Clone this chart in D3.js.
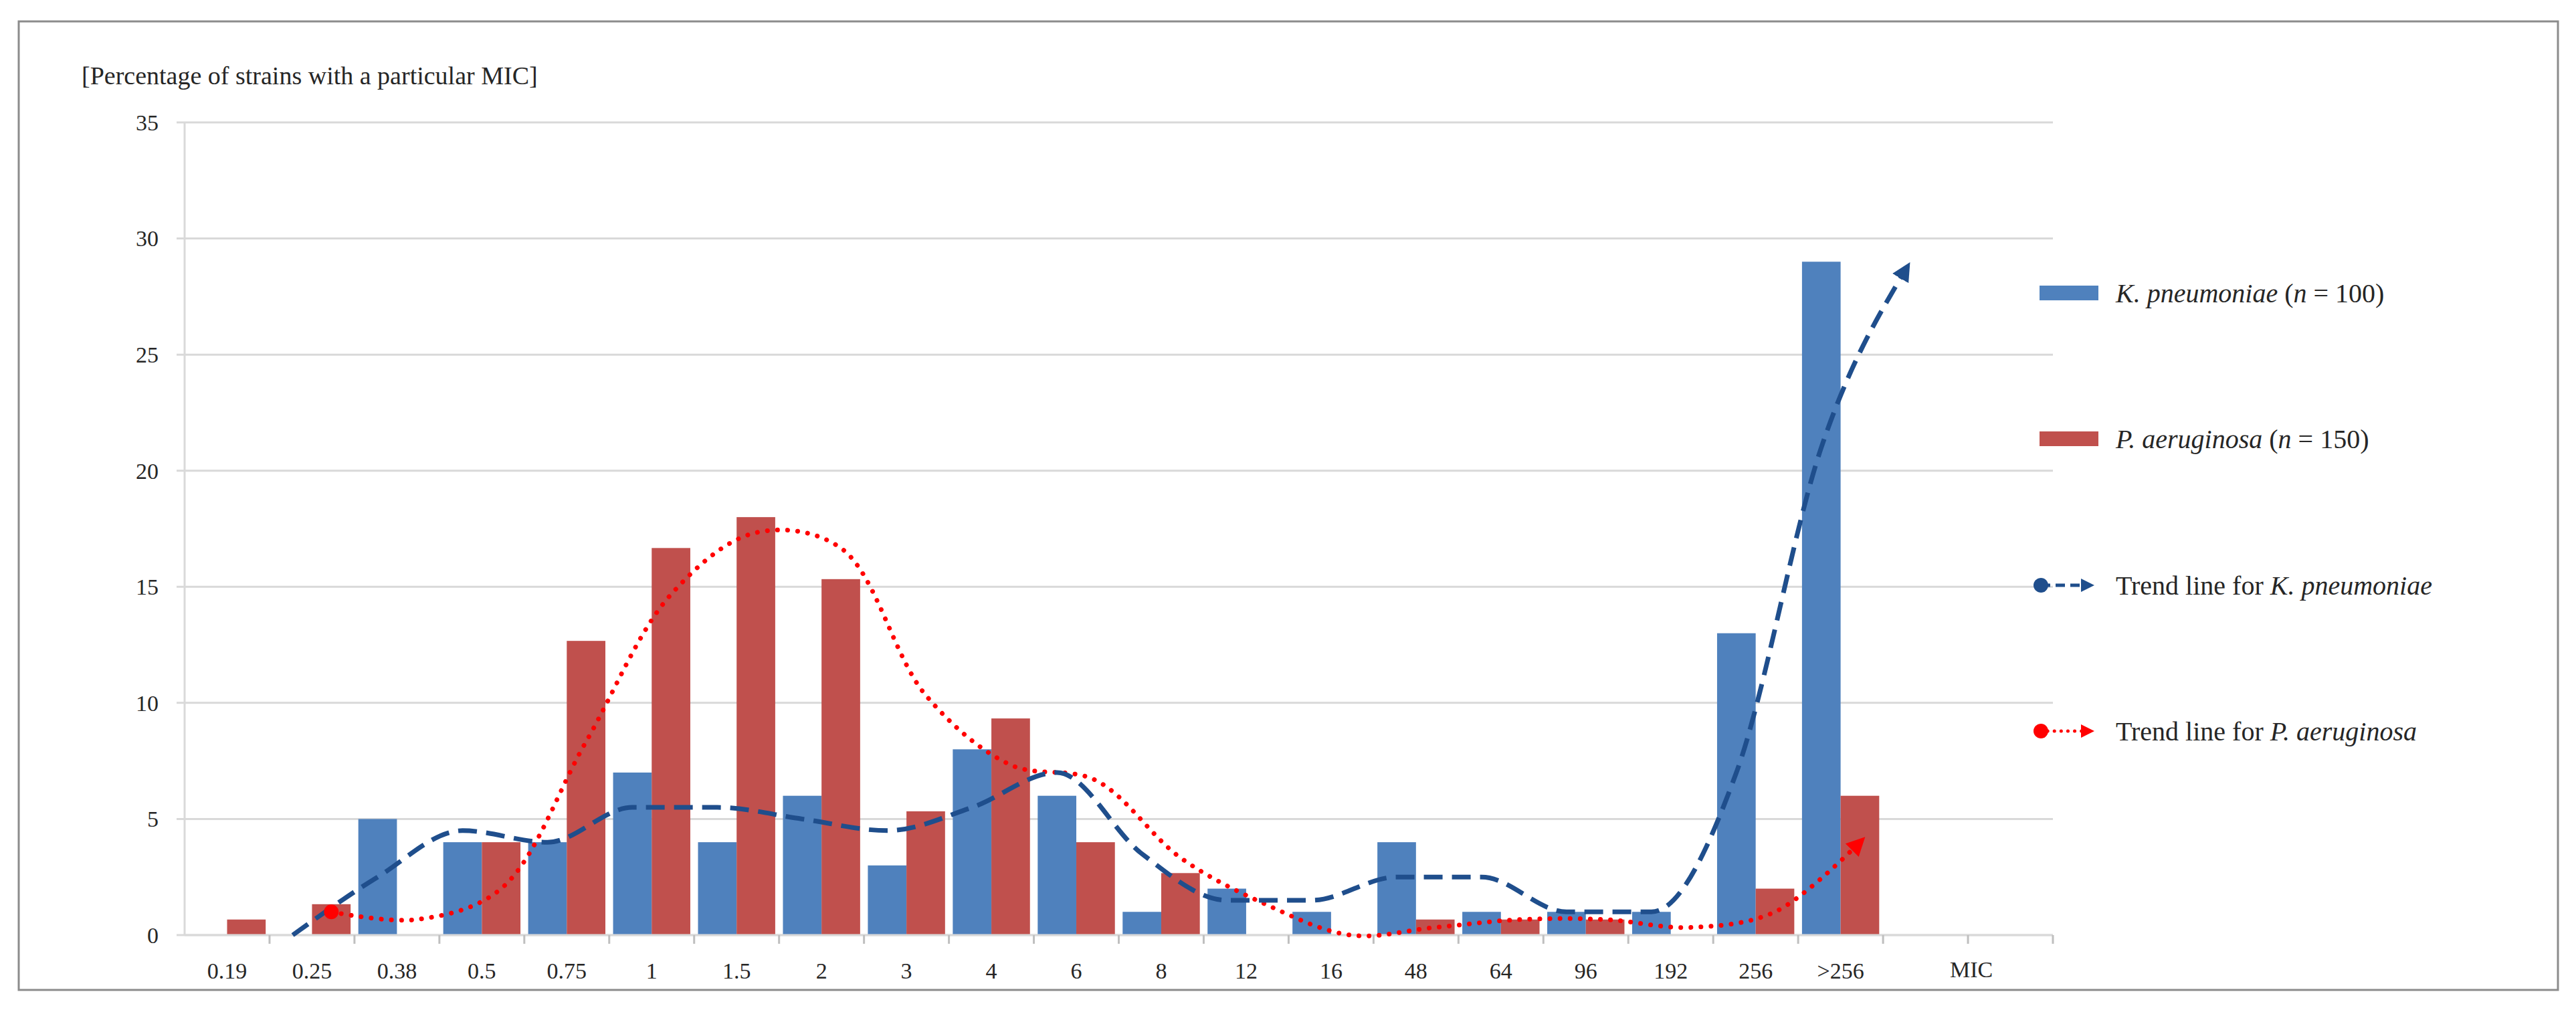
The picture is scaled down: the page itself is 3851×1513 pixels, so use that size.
<!DOCTYPE html>
<html>
<head>
<meta charset="utf-8">
<script src="https://cdn.jsdelivr.net/npm/d3@7"></script>
<style>
  body { margin: 0; background: #fff; }
  text { font-family: "Liberation Serif", "DejaVu Serif", serif; fill: #262626; }
</style>
</head>
<body>
<script>
// MIC categories (two empty slots follow >256)
const categories = ['0.19', '0.25', '0.38', '0.5', '0.75', '1', '1.5', '2', '3', '4', '6', '8',
                    '12', '16', '48', '64', '96', '192', '256', '>256', 'pad1', 'pad2'];
const kpValues = [0, 0, 5, 4, 4, 7, 4, 6, 3, 8, 6, 1, 2, 1, 4, 1, 1, 1, 13, 29];
const paValues = [0.67, 1.33, 0, 4, 12.67, 16.67, 18, 15.33, 5.33, 9.33, 4, 2.67, 0, 0, 0.67, 0.67, 0.67, 0, 2, 6];
// trend lines (2-point moving averages), starting at 0.25
const kpTrend = [null, 0, 2.5, 4.5, 4, 5.5, 5.5, 5, 4.5, 5.5, 7, 3.5, 1.5, 1.5, 2.5, 2.5, 1, 1, 7, 21, 28.7];
const paTrend = [null, 1, 0.67, 2, 8.33, 14.67, 17.33, 16.67, 10.33, 7.33, 6.67, 3.33, 1.33, 0, 0.33, 0.67, 0.67, 0.33, 1, 4];
const yTicks = [0, 5, 10, 15, 20, 25, 30, 35];

const W = 3851, H = 1513;
const plotLeft = 276, plotRight = 3069, plotTop = 183, plotBottom = 1398;
const blue = '#4f81bd', red = '#c0504d', trendBlue = '#1f4e8c', trendRed = '#ff0000';

const svg = d3.select('body').append('svg').attr('width', W).attr('height', H);

svg.append('defs').call(defs => {
  defs.append('marker').attr('id', 'arrB').attr('viewBox', '0 0 10 10').attr('refX', 6).attr('refY', 5)
    .attr('markerWidth', 4).attr('markerHeight', 4).attr('orient', 'auto').attr('markerUnits', 'strokeWidth')
    .append('path').attr('d', 'M0,0L10,5L0,10Z').attr('fill', trendBlue);
  defs.append('marker').attr('id', 'arrR').attr('viewBox', '0 0 10 10').attr('refX', 6).attr('refY', 5)
    .attr('markerWidth', 4).attr('markerHeight', 4).attr('orient', 'auto').attr('markerUnits', 'strokeWidth')
    .append('path').attr('d', 'M0,0L10,5L0,10Z').attr('fill', trendRed);
});

// outer frame
svg.append('rect').attr('x', 28).attr('y', 32).attr('width', 3796).attr('height', 1448)
  .attr('fill', 'none').attr('stroke', '#8c8c8c').attr('stroke-width', 3);

const x = d3.scaleBand().domain(categories).range([plotLeft, plotRight]).paddingInner(0).paddingOuter(0);
const xs = d3.scaleBand().domain(['kp', 'pa']).range([0, x.bandwidth()]).paddingOuter(0.1);
const y = d3.scaleLinear().domain([0, 35]).range([plotBottom, plotTop]);

// gridlines + y labels
svg.append('g').selectAll('line').data(yTicks).join('line')
  .attr('x1', plotLeft - 12).attr('x2', plotRight).attr('y1', d => y(d)).attr('y2', d => y(d))
  .attr('stroke', '#d9d9d9').attr('stroke-width', 3);
svg.append('g').selectAll('text').data(yTicks).join('text')
  .attr('x', 237).attr('y', d => y(d)).attr('dy', '0.35em').attr('text-anchor', 'end')
  .attr('font-size', 34).text(d => d);

svg.append('line').attr('x1', plotLeft).attr('x2', plotLeft).attr('y1', plotTop).attr('y2', plotBottom)
  .attr('stroke', '#d9d9d9').attr('stroke-width', 3);

// bars
const bars = svg.append('g');
bars.selectAll('.kp').data(kpValues).join('rect').attr('class', 'kp')
  .attr('x', (d, i) => x(categories[i]) + xs('kp')).attr('width', xs.bandwidth())
  .attr('y', d => y(d)).attr('height', d => y(0) - y(d)).attr('fill', blue);
bars.selectAll('.pa').data(paValues).join('rect').attr('class', 'pa')
  .attr('x', (d, i) => x(categories[i]) + xs('pa')).attr('width', xs.bandwidth())
  .attr('y', d => y(d)).attr('height', d => y(0) - y(d)).attr('fill', red);

// x axis
svg.append('line').attr('x1', plotLeft).attr('x2', plotRight).attr('y1', plotBottom).attr('y2', plotBottom)
  .attr('stroke', '#d9d9d9').attr('stroke-width', 3);
svg.append('g').selectAll('line').data(categories).join('line')
  .attr('x1', d => x(d) + x.bandwidth()).attr('x2', d => x(d) + x.bandwidth())
  .attr('y1', plotBottom).attr('y2', plotBottom + 13).attr('stroke', '#bfbfbf').attr('stroke-width', 3);
svg.append('g').selectAll('text').data(categories.slice(0, 20)).join('text')
  .attr('x', d => x(d) + x.bandwidth() / 2).attr('y', 1463).attr('text-anchor', 'middle')
  .attr('font-size', 34).text(d => d);
svg.append('text').attr('x', x('pad2') + 5).attr('y', 1461).attr('text-anchor', 'middle')
  .attr('font-size', 34).text('MIC');

// trend lines
function trend(vals, key) {
  return vals.map((v, i) => ({ x: x(categories[i]) + xs(key) + xs.bandwidth() / 2, v }))
    .filter(d => d.v !== null);
}
const kpPts = trend(kpTrend, 'kp'), paPts = trend(paTrend, 'pa');
svg.append('path').datum(paPts)
  .attr('d', d3.line().x(d => d.x).y(d => y(d.v)).curve(d3.curveCatmullRom.alpha(0.5)))
  .attr('fill', 'none').attr('stroke', trendRed).attr('stroke-width', 7)
  .attr('stroke-dasharray', '0.1 15').attr('stroke-linecap', 'round').attr('marker-end', 'url(#arrR)');
svg.append('path').datum(kpPts)
  .attr('d', d3.line().x(d => d.x).y(d => y(d.v)).curve(d3.curveMonotoneX))
  .attr('fill', 'none').attr('stroke', trendBlue).attr('stroke-width', 7)
  .attr('stroke-dasharray', '28 14').attr('marker-end', 'url(#arrB)');
svg.append('circle').attr('cx', paPts[0].x).attr('cy', y(paPts[0].v)).attr('r', 11).attr('fill', trendRed);

// title
svg.append('text').attr('x', 122).attr('y', 126).attr('font-size', 38)
  .text('[Percentage of strains with a particular MIC]');

// legend
const lx = 3049, lt = 3163;
const lg = svg.append('g');
[[438, blue, 'K. pneumoniae', '100'], [656, red, 'P. aeruginosa', '150']].forEach(([ly, c, name, n]) => {
  lg.append('rect').attr('x', lx).attr('y', ly - 11).attr('width', 88).attr('height', 22).attr('fill', c);
  const t = lg.append('text').attr('x', lt).attr('y', ly).attr('dy', '0.35em').attr('font-size', 40);
  t.append('tspan').attr('font-style', 'italic').text(name);
  t.append('tspan').text(' (');
  t.append('tspan').attr('font-style', 'italic').text('n');
  t.append('tspan').text(' = ' + n + ')');
});
[[875, trendBlue, 'K. pneumoniae', '14 8', 'butt', 'url(#arrB)'],
 [1093, trendRed, 'P. aeruginosa', '0.1 10', 'round', 'url(#arrR)']].forEach(([ly, c, name, dash, cap, m]) => {
  lg.append('line').attr('x1', lx + 2).attr('x2', lx + 74).attr('y1', ly).attr('y2', ly)
    .attr('stroke', c).attr('stroke-width', 5).attr('stroke-dasharray', dash).attr('stroke-linecap', cap)
    .attr('marker-end', m);
  lg.append('circle').attr('cx', lx + 2).attr('cy', ly).attr('r', 11).attr('fill', c);
  const t = lg.append('text').attr('x', lt).attr('y', ly).attr('dy', '0.35em').attr('font-size', 40);
  t.append('tspan').text('Trend line for ');
  t.append('tspan').attr('font-style', 'italic').text(name);
});
</script>
</body>
</html>
